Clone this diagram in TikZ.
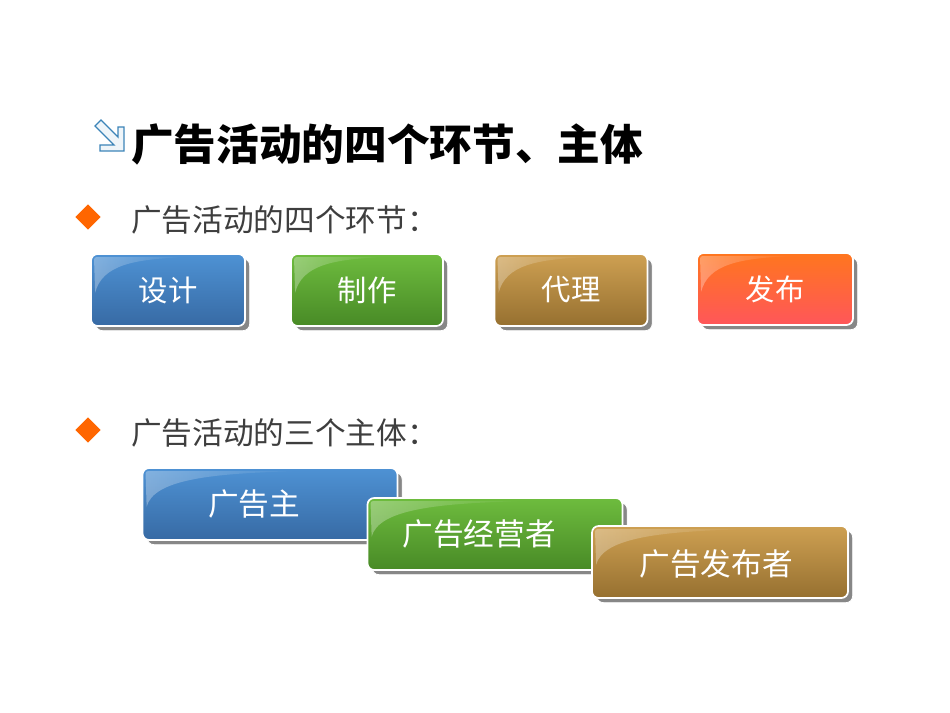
\documentclass[tikz,border=0pt]{standalone}
\usepackage{fontspec}
\setmainfont{Noto Sans CJK SC}
\usepackage{xcolor}
\usetikzlibrary{shadows,fadings,calc,shapes.geometric}

\definecolor{blueT}{RGB}{78,146,212}
\definecolor{blueB}{RGB}{55,106,164}
\definecolor{greenT}{RGB}{110,188,62}
\definecolor{greenB}{RGB}{72,138,38}
\definecolor{brownT}{RGB}{206,160,82}
\definecolor{brownB}{RGB}{150,112,48}
\definecolor{redT}{RGB}{255,118,30}
\definecolor{redB}{RGB}{255,86,90}
\definecolor{bulletgray}{RGB}{62,62,62}
\definecolor{dotorange}{RGB}{255,102,0}
\definecolor{iconblue}{RGB}{60,132,184}
\definecolor{shadowgray}{RGB}{135,135,135}

\tikzset{
  tabbox/.style n args={3}{rounded corners=5pt, draw=white, line width=1.3pt,
    top color=#1, bottom color=#2, minimum width=#3*0.75pt, minimum height=54pt,
    inner sep=0pt, text=white, font=\fontsize{22}{24}\selectfont,
    general shadow={shadow xshift=3.5pt, shadow yshift=-3.5pt, fill=shadowgray, draw=white, line width=0.6pt}},
  boxtext/.style={inner sep=0pt, text=white, font=\fontsize{23}{25}\selectfont},
  bullettext/.style={anchor=west, inner sep=0pt, text=bulletgray, font=\fontsize{23}{25}\selectfont},
  dot/.style={diamond, fill=dotorange, inner sep=0pt, minimum size=19pt}
}

% glossy highlight in the upper left of a box: node, width, height (px)
\newcommand\gloss[3]{%
  \fill[white, fill opacity=0.3, path fading=east]
    ($(#1.north west)+(4,9)$) .. controls ($(#1.north west)+(4,4)$) .. ($(#1.north west)+(9,4)$)
    -- ($(#1.north west)+({0.62*#2},4)$)
    .. controls ($(#1.north west)+({0.28*#2},6)$) and ($(#1.north west)+(12,12)$) .. ($(#1.north west)+(5,{0.55*#3})$)
    -- cycle;
}

\begin{document}
\begin{tikzpicture}[x=0.75pt,y=0.75pt,yscale=-1,xscale=1]
  \useasboundingbox (0,0) rectangle (950,713);

  % title and icon
  \draw[iconblue, line width=1pt, fill=iconblue!8, line join=miter]
    (101,120) -- (118,137) -- (118,127) -- (124,127) -- (124,151) -- (100,151) -- (100,145) -- (114,145) -- (95,126) -- cycle;
  \node[anchor=west, inner sep=0pt, font=\bfseries\fontsize{32}{36}\selectfont] (title) at (131,144) {广告活动的四个环节、主体};

  % four stages
  \node[dot] (dot1) at (88,217) {};
  \node[bullettext] (stages) at (131,220) {广告活动的四个环节：};

  \node[tabbox={blueT}{blueB}{154}] (sheji) at (168,290) {设计};
  \node[tabbox={greenT}{greenB}{152}] (zhizuo) at (367,290) {制作};
  \node[tabbox={brownT}{brownB}{153}] (daili) at (571,290) {代理};
  \node[tabbox={redT}{redB}{156}] (fabu) at (775,289) {发布};
  \gloss{sheji}{154}{72}
  \gloss{zhizuo}{152}{72}
  \gloss{daili}{153}{72}
  \gloss{fabu}{156}{72}

  % three subjects
  \node[dot] (dot2) at (88,430) {};
  \node[bullettext] (subjects) at (131,433) {广告活动的三个主体：};

  \node[tabbox={blueT}{blueB}{255}] (zhu) at (270,504) {};
  \gloss{zhu}{255}{72}
  \node[boxtext] (zhu-t) at ($(zhu)+(-16,0)$) {广告主};

  \node[tabbox={greenT}{greenB}{255}] (jingying) at (495,534) {};
  \gloss{jingying}{255}{72}
  \node[boxtext] (jingying-t) at ($(jingying)+(-16,0)$) {广告经营者};

  \node[tabbox={brownT}{brownB}{256}] (fabuzhe) at (720,562) {};
  \gloss{fabuzhe}{256}{72}
  \node[boxtext] (fabuzhe-t) at ($(fabuzhe)+(-4,2)$) {广告发布者};
\end{tikzpicture}
\end{document}
